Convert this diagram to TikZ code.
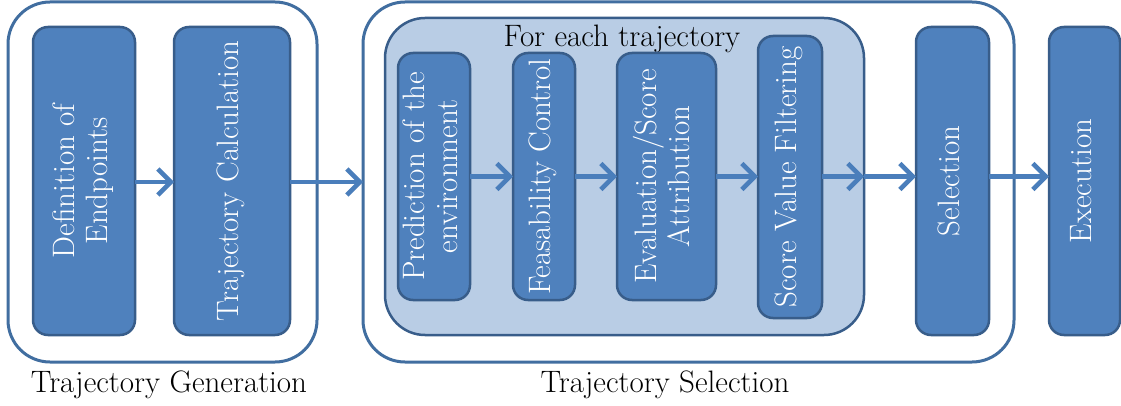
\documentclass[tikz,border=0pt]{standalone}
\usepackage{graphicx}
\usetikzlibrary{arrows.meta}
\newcommand{\vlabel}[1]{\rotatebox{90}{\begin{tabular}{@{}c@{}}#1\end{tabular}}}
\begin{document}
\begin{tikzpicture}[x=1pt,y=-1pt,
  font=\fontsize{31}{33}\selectfont,
  stagebox/.style={draw=boxLine,line width=2.5pt,fill=boxFill,rounded corners=15pt,
    text=white,inner sep=0pt,outer sep=0pt},
  groupbox/.style={draw=groupLine,line width=3pt,rounded corners=42pt,inner sep=0pt,outer sep=0pt},
  flow/.style={draw=arrowColor,line width=4.5pt,-{Straight Barb[length=13pt,width=26pt]}}]
\definecolor{boxFill}{RGB}{79,129,189}
\definecolor{boxLine}{RGB}{56,93,138}
\definecolor{groupLine}{RGB}{65,110,160}
\definecolor{loopFill}{RGB}{185,205,229}
\definecolor{arrowColor}{RGB}{74,126,187}
\path[use as bounding box,fill=white] (0,0) rectangle (1121,406);

% groups
\node[groupbox,fill=white,minimum width=309pt,minimum height=360pt] (gen) at (162.5,182) {};
\node[groupbox,fill=white,minimum width=651pt,minimum height=360pt] (tsel) at (688.5,182) {};
\node[groupbox,draw=boxLine,line width=2.5pt,fill=loopFill,rounded corners=40pt,
  minimum width=479pt,minimum height=317pt] (each) at (624.5,176.5) {};

\node[anchor=base] (eachlabel) at (622,47) {For each trajectory};
\node[anchor=base] (genlabel) at (169,392) {Trajectory Generation};
\node[anchor=base] (sellabel) at (665,392) {Trajectory Selection};

% stages
\node[stagebox,minimum width=102pt,minimum height=308pt] (def) at (84,181) {\vlabel{Definition of\\Endpoints}};
\node[stagebox,minimum width=116pt,minimum height=308pt] (calc) at (232,181) {\vlabel{Trajectory Calculation}};
\node[stagebox,minimum width=72pt,minimum height=247pt] (pred) at (434,176.5) {\vlabel{Prediction of the\\environment}};
\node[stagebox,minimum width=62pt,minimum height=247pt] (feas) at (544,176.5) {\vlabel{Feasability Control}};
\node[stagebox,minimum width=99pt,minimum height=247pt] (eval) at (666.5,176.5) {\vlabel{Evaluation/Score\\Attribution}};
\node[stagebox,minimum width=64pt,minimum height=282pt] (filt) at (790,177) {\vlabel{Score Value Filtering}};
\node[stagebox,minimum width=73pt,minimum height=308pt] (selc) at (952.5,181) {\vlabel{Selection}};
\node[stagebox,minimum width=71pt,minimum height=308pt] (exec) at (1084.5,181) {\vlabel{Execution}};

% arrows
\draw[flow] (def.east |- gen.center) -- (calc.west |- gen.center);
\draw[flow] (calc.east |- gen.center) -- (tsel.west);
\draw[flow] (pred.east) -- (feas.west);
\draw[flow] (feas.east) -- (eval.west);
\draw[flow] (eval.east) -- (filt.west |- eval.east);
\draw[flow] (filt.east |- each.center) -- (each.east);
\draw[flow] (each.east) -- (each.east -| selc.west);
\draw[flow] (selc.east |- each.east) -- (exec.west |- each.east);
\end{tikzpicture}
\end{document}
